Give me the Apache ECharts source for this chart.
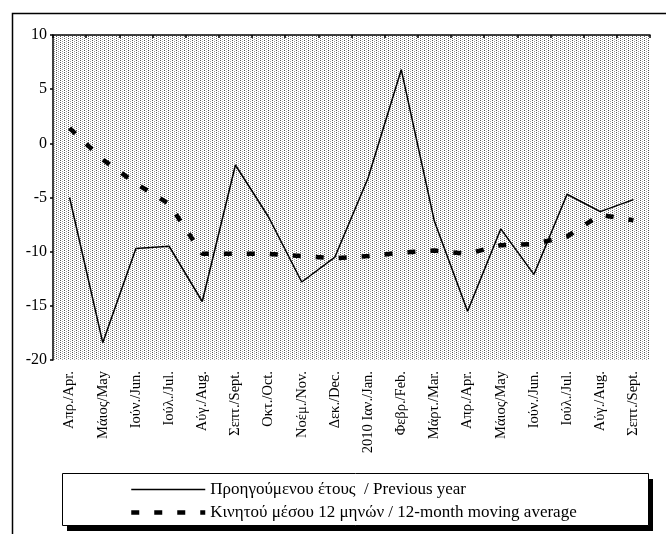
<!DOCTYPE html>
<html>
<head>
<meta charset="utf-8">
<script src="https://cdn.jsdelivr.net/npm/echarts@6/dist/echarts.min.js"></script>
<style>html,body{margin:0;padding:0;background:#fff}#c{width:666px;height:534px}</style>
</head>
<body>
<div id="c"></div>
<script>
const categories = ['Απρ./Apr.','Μάιος/May','Ιούν./Jun.','Ιούλ./Jul.','Αύγ./Aug.','Σεπτ./Sept.','Οκτ./Oct.','Νοέμ./Nov.','Δεκ./Dec.','2010 Ιαν./Jan.','Φεβρ./Feb.','Μάρτ./Mar.','Απρ./Apr.','Μάιος/May','Ιούν./Jun.','Ιούλ./Jul.','Αύγ./Aug.','Σεπτ./Sept.'];
const previousYear = [-5.0,-18.4,-9.7,-9.5,-14.6,-2.0,-6.8,-12.8,-10.5,-3.2,6.8,-7.2,-15.5,-7.9,-12.1,-4.7,-6.3,-5.2];
const movingAverage = [1.4,-1.5,-3.7,-5.6,-10.2,-10.2,-10.2,-10.4,-10.6,-10.4,-10.1,-9.9,-10.2,-9.4,-9.3,-8.6,-6.6,-7.1];
const seriesNames = ['Προηγούμενου έτους  / Previous year','Κινητού μέσου 12 μηνών / 12-month moving average'];

const tile = document.createElement('canvas');
tile.width = 4; tile.height = 2;
const tc = tile.getContext('2d');
tc.fillStyle = '#ffffff'; tc.fillRect(0,0,4,2);
tc.fillStyle = '#555555'; tc.fillRect(0,0,1,1);
tc.fillStyle = '#a0a0a0'; tc.fillRect(2,1,1,1);

const font = 'Liberation Serif';
const solidStyle = {color:'#000',width:1.5,type:'solid'};
const dashStyle = {color:'#000',width:4.5,type:[8,15]};
const chart = echarts.init(document.getElementById('c'), null, {renderer:'canvas'});
chart.setOption({
  animation:false,
  backgroundColor:'#fff',
  textStyle:{fontFamily:font},
  grid:{left:53,right:16,top:35,bottom:174,show:true,borderWidth:0,backgroundColor:{image:tile,repeat:'repeat'}},
  xAxis:[{
    type:'category',data:categories,position:'bottom',boundaryGap:true,
    axisLine:{show:false},axisTick:{show:false},
    axisLabel:{rotate:90,interval:0,margin:11,color:'#000',fontFamily:font,fontSize:14.5},
    splitLine:{show:false}
  },{
    type:'category',data:categories,position:'top',boundaryGap:true,
    axisLine:{show:true,onZero:true,lineStyle:{color:'#000',width:1.5}},
    axisTick:{show:true,inside:true,length:3,interval:0,lineStyle:{color:'#000',width:1.5}},
    axisLabel:{show:false},splitLine:{show:false}
  }],
  yAxis:{
    type:'value',min:-20,max:10,interval:5,
    axisLine:{show:true,onZero:false,lineStyle:{color:'#000',width:1.5}},
    axisTick:{show:true,length:3,lineStyle:{color:'#000',width:1.5}},
    axisLabel:{color:'#000',fontFamily:font,fontSize:16,margin:6},
    splitLine:{show:false}
  },
  legend:{
    orient:'vertical',left:129,top:481,itemWidth:74,itemHeight:12,itemGap:6,padding:0,
    itemStyle:{opacity:0},
    textStyle:{fontFamily:font,fontSize:17,color:'#000'},
    data:[
      {name:seriesNames[0],lineStyle:solidStyle},
      {name:seriesNames[1],lineStyle:dashStyle}
    ]
  },
  graphic:[
    {type:'rect',left:10,top:11,shape:{width:720,height:600},style:{fill:'none',stroke:'#000',lineWidth:1.5},silent:true,z:-10},
    {type:'rect',left:67,top:479,shape:{width:586,height:52},style:{fill:'#000'},silent:true,z:-6},
    {type:'rect',left:62,top:473,shape:{width:586,height:52},style:{fill:'#fff',stroke:'#000',lineWidth:1},silent:true,z:-5}
  ],
  series:[
    {name:seriesNames[0],type:'line',xAxisIndex:0,data:previousYear,symbol:'none',lineStyle:solidStyle,itemStyle:{color:'#000'}},
    {name:seriesNames[1],type:'line',xAxisIndex:0,data:movingAverage,symbol:'none',lineStyle:dashStyle,itemStyle:{color:'#000'}}
  ]
});
</script>
</body>
</html>
